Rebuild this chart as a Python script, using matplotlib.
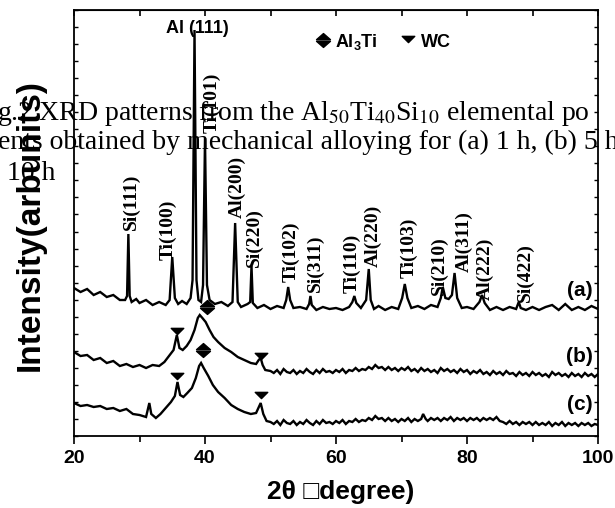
import matplotlib
matplotlib.use("Agg")
import matplotlib.pyplot as plt
from matplotlib.path import Path

# 2theta (deg) / intensity (a.u.)
tt_a = [20, 21, 22, 23, 24, 25, 26, 27, 27.8, 28.1, 28.3, 28.5, 28.8, 29.5, 30, 31, 32, 33, 34,
        34.6, 35.0, 35.4, 35.9, 36.5, 37.2, 37.8, 38.1, 38.4, 38.7, 39.0, 39.4, 39.7, 40.0, 40.3,
        40.7, 41.5, 42.5, 43.5, 44.2, 44.6, 45.0, 45.5, 46.5, 46.9, 47.1, 47.3, 48, 49, 50, 51, 52,
        52.4, 52.7, 53.0, 53.5, 54.5, 55.5, 55.9, 56.1, 56.3, 57, 58, 59, 60, 61, 62, 62.5, 62.8,
        63.1, 63.8, 64.6, 65.0, 65.3, 65.8, 66.5, 67.5, 68.5, 69.5, 70.1, 70.5, 70.9, 71.5, 72.5,
        73.5, 74.5, 75.5, 76.0, 76.3, 76.7, 77.2, 77.7, 78.1, 78.5, 79.2, 80, 81, 81.9, 82.3, 82.7,
        83.5, 84.5, 85.5, 86.5, 87.5, 87.9, 88.2, 89, 90, 91, 92, 93, 94, 95, 96, 97, 98, 99, 100]
int_a = [148, 144, 147, 141, 144, 139, 141, 136, 136, 140, 202, 140, 134, 137, 133, 136, 131, 134, 131,
         136, 179, 138, 132, 135, 132, 138, 156, 406, 156, 136, 134, 151, 298, 151,
         136, 132, 134, 130, 134, 213, 134, 129, 132, 134, 170, 133, 128, 131, 127, 130, 128,
         136, 149, 136, 128, 129, 127, 132, 140, 131, 126, 129, 127, 128, 126, 129, 134, 140,
         133, 128, 136, 167, 136, 127, 130, 126, 129, 127, 138, 152, 138, 128, 130,
         127, 131, 129, 138, 149, 138, 137, 141, 163, 138, 128, 129, 127, 134, 141, 133,
         126, 129, 126, 129, 127, 134, 128, 126, 129, 126, 129, 131, 126, 132, 126, 129, 126, 130, 127]

tt_b = [20, 21, 22, 23, 24, 25, 26, 27, 28, 29, 30, 31, 32, 33, 33.8, 34.5, 35.2, 35.7, 36.1, 36.6,
        37.2, 37.8, 38.4, 38.9, 39.2, 39.6, 40.1, 40.7, 41.3, 42, 43, 44, 45, 46, 47, 47.8, 48.2,
        48.5, 48.8, 49.2,
        50, 50.5, 51, 51.5, 52, 52.5, 53, 53.5, 54, 54.5, 55, 55.5, 56, 56.5, 57, 57.5, 58, 58.5,
        59, 59.5, 60, 60.5, 61, 61.5, 62, 62.5, 63, 63.5, 64, 64.5, 65, 65.5, 66, 66.5, 67, 67.5,
        68, 68.5, 69, 69.5, 70, 70.5, 71, 71.5, 72, 72.5, 73, 73.5, 74, 74.5, 75, 75.5, 76, 76.5,
        77, 77.5, 78, 78.5, 79, 79.5, 80, 80.5, 81, 81.5, 82, 82.5, 83, 83.5, 84, 84.5, 85, 85.5,
        86, 86.5, 87, 87.5, 88, 88.5, 89, 89.5, 90, 90.5, 91, 91.5, 92, 92.5, 93, 93.5, 94, 94.5,
        95, 95.5, 96, 96.5, 97, 97.5, 98, 98.5, 99, 99.5, 100]
int_b = [84, 80, 81, 76, 78, 73, 75, 70, 72, 69, 71, 68, 71, 70, 74, 80, 86, 101, 88, 86,
         90, 96, 106, 118, 121, 118, 114, 106, 99, 94, 88, 84, 79, 76, 73, 72, 76,
         78, 71, 66,
         65, 63, 66, 62, 67, 64, 63, 66, 62, 65, 63, 67, 64, 62, 66, 63, 67, 64,
         65, 63, 66, 64, 67, 63, 66, 65, 68, 65, 67, 66, 69, 67, 71, 68, 69, 66,
         69, 66, 68, 65, 68, 66, 69, 65, 67, 64, 68, 65, 67, 64, 66, 63, 68, 65,
         67, 64, 66, 63, 67, 64, 66, 62, 65, 63, 66, 62, 64, 61, 65, 62, 64, 61,
         65, 62, 63, 60, 64, 61, 63, 60, 64, 61, 63, 60, 62, 59, 64, 61, 63, 60,
         62, 59, 63, 60, 62, 59, 63, 60, 62, 59, 62]

tt_c = [20, 21, 22, 23, 24, 25, 26, 27, 28, 29, 30, 31, 31.5, 31.8, 32.5, 33.2, 34, 34.8, 35.4,
        35.8, 36.2, 36.7, 37.3, 38.0, 38.6, 39.1, 39.4, 39.8, 40.5, 41.2, 42, 43, 44, 45, 46, 47,
        47.8, 48.5, 48.9, 49.4,
        50, 50.5, 51, 51.5, 52, 52.5, 53, 53.5, 54, 54.5, 55, 55.5, 56, 56.5, 57, 57.5, 58, 58.5,
        59, 59.5, 60, 60.5, 61, 61.5, 62, 62.5, 63, 63.5, 64, 64.5, 65, 65.5, 66, 66.5, 67, 67.5,
        68, 68.5, 69, 69.5, 70, 70.5, 71, 71.5, 72, 72.5, 73, 73.3, 73.7, 74, 74.5, 75, 75.5, 76,
        76.5, 77, 77.5, 78, 78.5, 79, 79.5, 80, 80.5, 81, 81.5, 82, 82.5, 83, 83.5, 84, 84.5, 85,
        85.5, 86, 86.5, 87, 87.5, 88, 88.5, 89, 89.5, 90, 90.5, 91, 91.5, 92, 92.5, 93, 93.5, 94,
        94.5, 95, 95.5, 96, 96.5, 97, 97.5, 98, 98.5, 99, 99.5, 100]
int_c = [33, 30, 31, 29, 30, 27, 28, 25, 27, 22, 21, 19, 33, 22, 18, 22, 28, 34, 40,
         54, 41, 39, 43, 48, 58, 70, 73, 68, 60, 51, 44, 38, 31, 27, 24, 22,
         23, 33, 22, 15,
         14, 12, 15, 11, 16, 13, 12, 15, 11, 14, 12, 16, 13, 11, 15, 12, 16, 13,
         14, 12, 15, 13, 16, 12, 15, 14, 17, 14, 16, 15, 18, 16, 20, 17, 18, 15,
         18, 15, 17, 14, 17, 15, 18, 14, 17, 15, 17, 22, 17, 15, 18, 16, 18, 15,
         18, 16, 19, 15, 18, 16, 18, 15, 18, 16, 18, 15, 18, 16, 18, 16, 19, 15,
         14, 12, 15, 12, 14, 11, 14, 12, 14, 11, 14, 11, 13, 11, 14, 10, 13, 11,
         14, 10, 13, 11, 13, 10, 13, 11, 13, 10, 12, 11]

# phase marks
al3ti_tt = [40.3, 39.7]
al3ti_int = [129, 86]
wc_tt = [35.7, 48.5, 35.8, 48.5]
wc_int = [105, 80, 60, 41]

# peak labels of pattern (a): name, 2theta, bottom of label
peak_names = ["Si(111)", "Ti(100)", "Ti(101)", "Al(200)", "Si(220)", "Ti(102)", "Si(311)",
              "Ti(110)", "Al(220)", "Ti(103)", "Si(210)", "Al(311)", "Al(222)", "Si(422)"]
peak_tt = [28.8, 34.4, 41.1, 44.9, 47.5, 53.1, 56.8, 62.4, 65.6, 71.1, 75.7, 79.5, 82.7, 88.9]
peak_lab_int = [206, 176, 303, 218, 169, 154, 144, 143, 169, 158, 141, 164, 136, 134]

curve_names = ["(a)", "(b)", "(c)"]
curve_lab_int = [146, 79, 31]

plt.rcParams['mathtext.fontset'] = 'custom'
plt.rcParams['mathtext.rm'] = 'Liberation Sans:bold'
plt.rcParams['mathtext.it'] = 'Liberation Sans:bold'
plt.rcParams['mathtext.bf'] = 'Liberation Sans:bold'

sans = dict(family='Liberation Sans', weight='bold')
serif = dict(family='Liberation Serif', weight='bold')

fig = plt.figure(figsize=(6.15, 5.08), dpi=100)
ax = fig.add_axes([74 / 615, 1 - 436 / 508, 524 / 615, 426 / 508])

for tt, inten in [(tt_a, int_a), (tt_b, int_b), (tt_c, int_c)]:
    ax.plot(tt, inten, color='black', lw=1.7, solid_joinstyle='miter')

both = Path([(-1, 0.12), (1, 0.12), (0, 1), (-1, 0.12),
             (-1, -0.12), (1, -0.12), (0, -1), (-1, -0.12)],
            [Path.MOVETO, Path.LINETO, Path.LINETO, Path.CLOSEPOLY,
             Path.MOVETO, Path.LINETO, Path.LINETO, Path.CLOSEPOLY])
down = Path([(-1, 0.5), (1, 0.5), (0, -0.5), (-1, 0.5)],
            [Path.MOVETO, Path.LINETO, Path.LINETO, Path.CLOSEPOLY])

ax.plot(al3ti_tt, al3ti_int, ls='none', marker=both, ms=10, color='black')
ax.plot(wc_tt, wc_int, ls='none', marker=down, ms=9, color='black')

for name, x, y in zip(peak_names, peak_tt, peak_lab_int):
    ax.text(x, y, name, rotation=90, ha='center', va='bottom', fontsize=14, **serif)

for name, y in zip(curve_names, curve_lab_int):
    ax.text(99.2, y, name, ha='right', va='center', fontsize=15, **sans)

ax.text(38.8, 408, "Al (111)", ha='center', va='center', fontsize=13, **sans)

# legend
ax.plot([58.0], [396], ls='none', marker=both, ms=10, color='black')
ax.text(59.8, 394, "Al$_3$Ti", ha='left', va='center', fontsize=13, **sans)
ax.plot([71.0], [397], ls='none', marker=down, ms=9, color='black')
ax.text(73.0, 394, "WC", ha='left', va='center', fontsize=13, **sans)

ax.set_xlim(20, 100)
ax.set_ylim(0, 426)
ax.set_xticks([20, 40, 60, 80, 100])
ax.set_xticks([30, 50, 70, 90], minor=True)
ax.set_yticks([426 / 25 * i for i in range(26)])
ax.set_yticklabels([])
ax.tick_params(axis='x', which='major', direction='out', length=6, width=1.2, pad=4,
               labelsize=14)
ax.tick_params(axis='x', which='minor', direction='out', length=4, width=1.2)
ax.tick_params(axis='y', direction='in', length=3, width=1, right=True)
for lab in ax.get_xticklabels():
    lab.set_fontfamily('Liberation Sans')
    lab.set_fontweight('bold')
for sp in ax.spines.values():
    sp.set_linewidth(1.3)

# top ticks point inward
ax2 = ax.secondary_xaxis('top')
ax2.set_xticks([20, 30, 40, 50, 60, 70, 80, 90, 100])
ax2.tick_params(direction='in', length=4, width=1.2, labeltop=False)

fig.text(30 / 615, 1 - 225 / 508, "Intensity(arbunits)", rotation=90, ha='center', va='center',
         fontsize=24, **sans)
fig.text(341 / 615, 1 - 492 / 508, "2θ □degree)", ha='center', va='center', fontsize=19, **sans)

# caption text printed over the figure
cap = dict(family='Liberation Serif', fontsize=20, color='black', math_fontfamily='stix', zorder=10)
fig.text(-3 / 615, 1 - 120 / 508, r"g.2 XRD patterns from the Al$_{50}$Ti$_{40}$Si$_{10}$ elemental po",
         ha='left', va='baseline', **cap)
fig.text(-2 / 615, 1 - 149 / 508, "ents obtained by mechanical alloying for (a) 1 h, (b) 5 h",
         ha='left', va='baseline', **cap)
fig.text(7 / 615, 1 - 180 / 508, "10 h", ha='left', va='baseline', **cap)

fig.savefig("out.png", dpi=100)
